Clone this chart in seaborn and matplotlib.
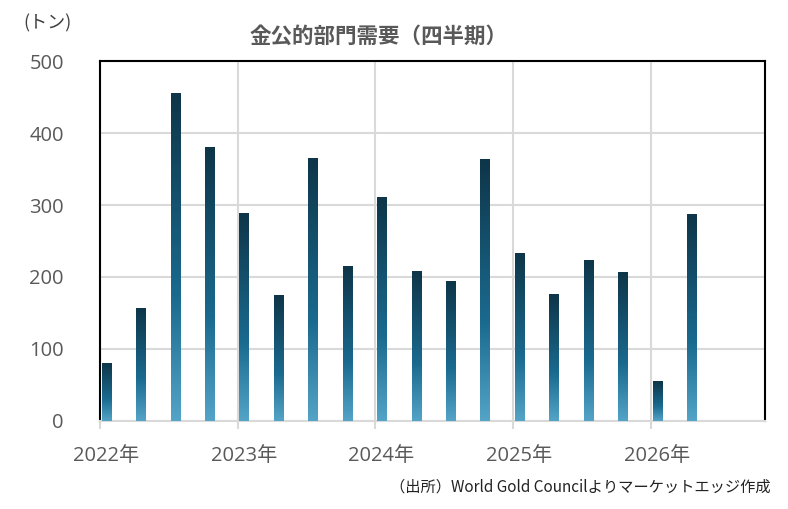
import numpy as np
import pandas as pd
import matplotlib
matplotlib.use("Agg")
import matplotlib.pyplot as plt
from matplotlib.colors import LinearSegmentedColormap
from matplotlib.transforms import ScaledTranslation
import seaborn as sns

# 四半期ごとの金公的部門需要（トン）
years = [2022, 2022, 2022, 2022, 2023, 2023, 2023, 2023, 2024, 2024, 2024, 2024,
         2025, 2025, 2025, 2025, 2026, 2026]
quarters = [1, 2, 3, 4, 1, 2, 3, 4, 1, 2, 3, 4, 1, 2, 3, 4, 1, 2]
demand = [81, 157, 456, 380, 289, 175, 365, 215, 311, 209, 194, 364,
          234, 176, 224, 207, 55, 287]
tick_years = [2022, 2023, 2024, 2025, 2026]
tick_labels = ["2022年", "2023年", "2024年", "2025年", "2026年"]

sns.set_theme(style="white")
plt.rcParams["font.family"] = ["Open Sans", "Noto Sans CJK JP", "DejaVu Sans"]
cjk = ["Noto Sans CJK JP", "DejaVu Sans"]

bar_w = 0.066
df = pd.DataFrame({
    "pos": [y + (q - 1) * 0.25 + 0.012 + bar_w / 2 for y, q in zip(years, quarters)],
    "demand": demand,
})

fig = plt.figure(figsize=(7.88, 5.09), dpi=100)
ax = fig.add_axes([0.127, 0.173, 0.844, 0.707])

sns.barplot(data=df, x="pos", y="demand", native_scale=True,
            width=bar_w / 0.25, color="#1a6a8f", ax=ax, zorder=3)

# 各棒をグラデーションで塗る（上が濃紺、下が明るい青）
cmap = LinearSegmentedColormap.from_list(
    "bar_grad", [(0.0, "#0e3548"), (0.62, "#1a6a8f"), (1.0, "#54a4c8")])
grad = np.linspace(0, 1, 256).reshape(-1, 1)
for p in ax.patches:
    x0, y0 = p.get_x(), p.get_y()
    w, h = p.get_width(), p.get_height()
    p.set_facecolor("none")
    p.set_edgecolor("none")
    im = ax.imshow(grad, cmap=cmap, aspect="auto", zorder=3,
                   extent=[x0, x0 + w, y0, y0 + h], origin="upper")
    im.set_clip_path(p)

ax.set_xlim(2022, 2026.83)
ax.set_ylim(0, 500)
ax.set_xticks(tick_years)
ax.set_xticklabels(tick_labels)
ax.set_yticks([0, 100, 200, 300, 400, 500])
ax.set_xlabel("")
ax.set_ylabel("")

ax.grid(True, color="#d9d9d9", linewidth=1.5, zorder=0)
ax.set_axisbelow(True)
for side in ["left", "top", "right"]:
    ax.spines[side].set_color("black")
    ax.spines[side].set_linewidth(1.5)
ax.spines["bottom"].set_color("#d9d9d9")
ax.spines["bottom"].set_linewidth(1.5)

ax.tick_params(axis="x", which="major", bottom=True, length=6, width=1.5,
               color="#d9d9d9", labelsize=14.5, labelcolor="#595959", pad=12)
ax.tick_params(axis="y", left=False, labelsize=14.5, labelcolor="#595959", pad=20)

# 年ラベルは最初の棒の位置に合わせて少し右へ
shift = ScaledTranslation(6 / 100, 0, fig.dpi_scale_trans)
for lab in ax.get_xticklabels():
    lab.set_transform(lab.get_transform() + shift)

fig.text(0.03, 0.955, "(トン)", fontsize=13, color="#404040", ha="left", va="center",
         family=cjk)
fig.text(0.48, 0.928, "金公的部門需要（四半期）", fontsize=15.5, fontweight="bold",
         color="#595959", ha="center", va="center", family=cjk)
fig.text(0.978, 0.043, "（出所）World Gold Councilよりマーケットエッジ作成", fontsize=11,
         color="#222222", ha="right", va="center", family=cjk)

fig.savefig("out.png", dpi=100)
